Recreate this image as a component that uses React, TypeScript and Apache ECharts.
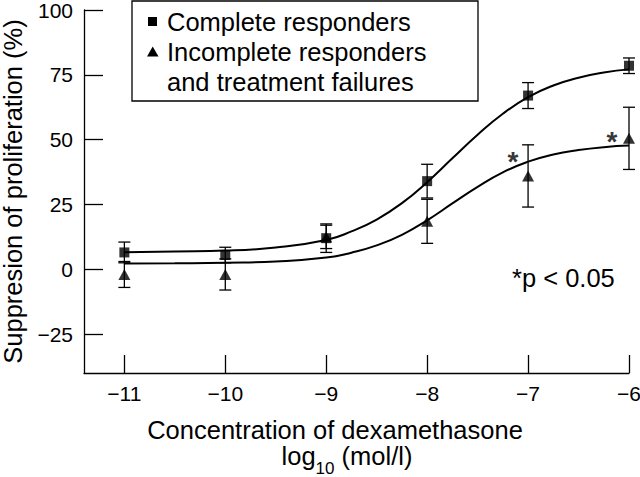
import React, { useEffect, useRef } from "react";
import * as echarts from "echarts";

// Concentrations (log10 mol/l)
const doses = [-11, -10, -9, -8, -7, -6];
// Complete responders: mean and SE
const completeMean = [6.5, 5.5, 12, 34, 67, 78.5];
const completeErr = [4, 3, 5.5, 6.5, 5, 3];
// Incomplete responders and treatment failures: mean and SE
const incompleteMean = [-2, -2, 12.5, 18.5, 36, 50.5];
const incompleteErr = [5, 6, 4.5, 8.5, 12, 12];
// Fitted curves
const curveX = [-11, -10.5, -10, -9.5, -9, -8.75, -8.5, -8.25, -8, -7.75, -7.5, -7.25, -7, -6.75, -6.5, -6.25, -6];
const completeCurve = [6.6, 6.9, 7.2, 8.4, 11.3, 14.6, 19.2, 25.5, 33.6, 42.8, 51.9, 60.0, 66.4, 70.9, 73.9, 75.9, 77.1];
const incompleteCurve = [2.2, 2.3, 2.5, 3.0, 4.5, 6.4, 9.2, 13.3, 18.9, 25.4, 31.8, 37.4, 41.5, 44.3, 46.0, 47.1, 47.7];
// Significance asterisks (annotation anchors)
const starNotes = [[-7.15, 41.5], [-6.17, 49.2]];
// Tick labels
const xTicks = [-11, -10, -9, -8, -7, -6];
const yTicks = [-25, 0, 25, 50, 75, 100];

const FONT = "'Liberation Sans', Arial, Helvetica, sans-serif";
const BIG = 25.5;

function errData(xs: number[], m: number[], e: number[]) {
  return xs.map((x, i) => [x, m[i] - e[i], m[i] + e[i]]);
}

function errorBarSeries(data: number[][]) {
  return {
    type: "custom",
    data,
    encode: { x: 0, y: [1, 2] },
    z: 3,
    renderItem: (params: any, api: any) => {
      const x = api.value(0);
      const lo = api.value(1);
      const hi = api.value(2);
      const top = api.coord([x, hi]);
      const bot = api.coord([x, lo]);
      const w = 6;
      const st = { stroke: "#000", lineWidth: 1.3 };
      return {
        type: "group",
        children: [
          { type: "line", shape: { x1: top[0], y1: top[1], x2: bot[0], y2: bot[1] }, style: st },
          { type: "line", shape: { x1: top[0] - w, y1: top[1], x2: top[0] + w, y2: top[1] }, style: st },
          { type: "line", shape: { x1: bot[0] - w, y1: bot[1], x2: bot[0] + w, y2: bot[1] }, style: st },
        ],
      };
    },
  };
}

function measure(text: string, size: number) {
  const c = document.createElement("canvas").getContext("2d");
  if (!c) return text.length * size * 0.55;
  c.font = `${size}px ${FONT}`;
  return c.measureText(text).width;
}

export default function App() {
  const ref = useRef<HTMLDivElement>(null);
  useEffect(() => {
    document.body.style.margin = "0";
    if (!ref.current) return;
    const chart = echarts.init(ref.current, undefined, { renderer: "svg" });
    const minus = (v: number) => String(v).replace("-", "\u2212");

    // x-axis title second line: log10 (mol/l) with subscript
    const subSize = 17;
    const w1 = measure("log", BIG);
    const w2 = measure("10", subSize);
    const w3 = measure(" (mol/l)", BIG);
    const cx = 347;
    const x0 = cx - (w1 + w2 + w3) / 2;
    const lineY = 456;

    chart.setOption({
      animation: false,
      backgroundColor: "#fff",
      textStyle: { fontFamily: FONT },
      grid: { left: 84, right: 11, top: 10, bottom: 104, containLabel: false, outerBoundsMode: "none" },
      xAxis: {
        type: "value",
        min: -11.4,
        max: -6,
        axisLine: { show: true, onZero: false, lineStyle: { color: "#000", width: 1.3 } },
        axisTick: { show: true, inside: true, length: 18, customValues: xTicks, lineStyle: { color: "#000", width: 1.3 } },
        axisLabel: { customValues: xTicks, formatter: minus, color: "#000", fontSize: 21, fontFamily: FONT, margin: 10 },
        splitLine: { show: false },
      },
      yAxis: {
        type: "value",
        min: -40,
        max: 100,
        name: "Suppresion of proliferation (%)",
        nameLocation: "middle",
        nameGap: 52,
        nameTextStyle: { color: "#000", fontSize: BIG, fontFamily: FONT },
        axisLine: { show: true, onZero: false, lineStyle: { color: "#000", width: 1.3 } },
        axisTick: { show: true, inside: true, length: 19, customValues: yTicks, lineStyle: { color: "#000", width: 1.3 } },
        axisLabel: { customValues: yTicks, formatter: minus, color: "#000", fontSize: 21, fontFamily: FONT, margin: 11 },
        splitLine: { show: false },
      },
      series: [
        {
          type: "line",
          data: curveX.map((x, i) => [x, completeCurve[i]]),
          smooth: true,
          showSymbol: false,
          lineStyle: { color: "#000", width: 2 },
          z: 2,
        },
        {
          type: "line",
          data: curveX.map((x, i) => [x, incompleteCurve[i]]),
          smooth: true,
          showSymbol: false,
          lineStyle: { color: "#000", width: 2 },
          z: 2,
        },
        errorBarSeries(errData(doses, incompleteMean, incompleteErr)),
        errorBarSeries(errData(doses, completeMean, completeErr)),
        {
          type: "scatter",
          name: "Incomplete responders and treatment failures",
          symbol: "triangle",
          symbolSize: [12, 11],
          itemStyle: { color: "#000" },
          data: doses.map((x, i) => [x, incompleteMean[i]]),
          z: 4,
        },
        {
          type: "scatter",
          name: "Complete responders",
          symbol: "rect",
          symbolSize: 10,
          itemStyle: { color: "#000" },
          data: doses.map((x, i) => [x, completeMean[i]]),
          z: 5,
        },
        {
          type: "scatter",
          symbolSize: 0,
          silent: true,
          data: starNotes,
          label: { show: true, position: "inside", formatter: "*", color: "#000", fontSize: 28, fontWeight: "bold", fontFamily: FONT, textBorderWidth: 0 },
          z: 6,
        },
      ],
      graphic: [
        { type: "rect", shape: { x: 132, y: 1, width: 346, height: 100 }, style: { fill: "#fff", stroke: "#000", lineWidth: 1.3 }, z: 10 },
        { type: "rect", shape: { x: 148, y: 17, width: 9, height: 9 }, style: { fill: "#000" }, z: 11 },
        { type: "polygon", shape: { points: [[147, 56.5], [158.5, 56.5], [152.7, 46.5]] }, style: { fill: "#000" }, z: 11 },
        { type: "text", x: 167, y: 22, style: { text: "Complete responders", font: `${BIG}px ${FONT}`, fill: "#000", verticalAlign: "middle" }, z: 11 },
        { type: "text", x: 167, y: 52, style: { text: "Incomplete responders", font: `${BIG}px ${FONT}`, fill: "#000", verticalAlign: "middle" }, z: 11 },
        { type: "text", x: 167, y: 82, style: { text: "and treatment failures", font: `${BIG}px ${FONT}`, fill: "#000", verticalAlign: "middle" }, z: 11 },
        { type: "text", x: 512, y: 278, style: { text: "*p < 0.05", font: `${BIG}px ${FONT}`, fill: "#000", verticalAlign: "middle" }, z: 11 },
        { type: "text", x: 335, y: 430, style: { text: "Concentration of dexamethasone", font: `${BIG}px ${FONT}`, fill: "#000", align: "center", verticalAlign: "middle" }, z: 11 },
        { type: "text", x: x0, y: lineY, style: { text: "log", font: `${BIG}px ${FONT}`, fill: "#000", verticalAlign: "middle" }, z: 11 },
        { type: "text", x: x0 + w1, y: lineY + 12, style: { text: "10", font: `${subSize}px ${FONT}`, fill: "#000", verticalAlign: "middle" }, z: 11 },
        { type: "text", x: x0 + w1 + w2, y: lineY, style: { text: " (mol/l)", font: `${BIG}px ${FONT}`, fill: "#000", verticalAlign: "middle" }, z: 11 },
      ],
    });
    return () => chart.dispose();
  }, []);
  return <div ref={ref} style={{ width: 640, height: 477 }} />;
}
